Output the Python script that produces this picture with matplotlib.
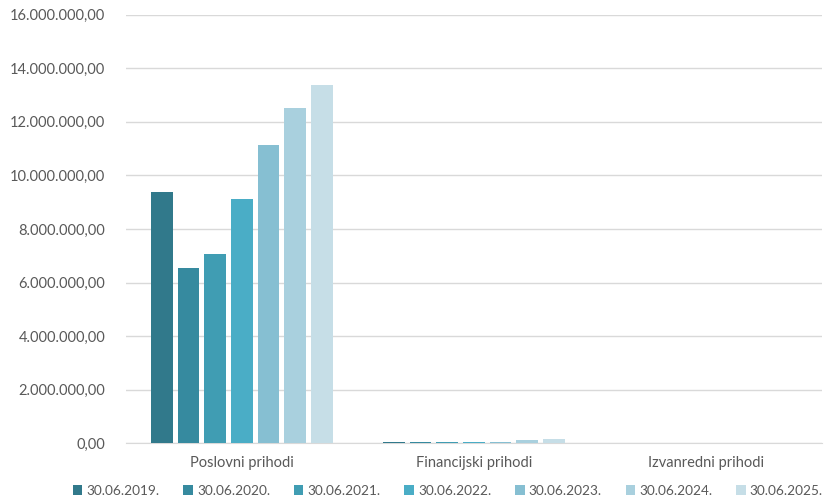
import numpy as np
import matplotlib.pyplot as plt
from matplotlib.ticker import FuncFormatter

# revenue by category, one series per reporting date
categories = ['Poslovni prihodi', 'Financijski prihodi', 'Izvanredni prihodi']
periods = ['30.06.2019.', '30.06.2020.', '30.06.2021.', '30.06.2022.',
           '30.06.2023.', '30.06.2024.', '30.06.2025.']
poslovni = [9380000, 6530000, 7050000, 9110000, 11130000, 12500000, 13360000]
financijski = [45000, 40000, 45000, 40000, 35000, 120000, 160000]
izvanredni = [0, 0, 0, 0, 0, 0, 0]
colors = ['#31798B', '#368A9F', '#409DB3', '#4AADC6', '#86BFD2', '#A9D0DE', '#C6DEE7']

values = np.array([poslovni, financijski, izvanredni])

plt.rcParams['font.family'] = ['Lato', 'DejaVu Sans']
text_color = '#595959'

fig = plt.figure(figsize=(8.34, 4.98), dpi=100)
ax = fig.add_axes([0.151, 0.1098, 0.8346, 0.8607])

x = np.arange(len(categories))
pitch = 0.115
width = 0.0935
for k, period in enumerate(periods):
    ax.bar(x + (k - 3) * pitch, values[:, k], width=width, color=colors[k],
           label=period, zorder=3)

ax.set_xlim(-0.5, 2.5)
ax.set_ylim(0, 16000000)
ax.set_yticks(np.arange(0, 16000001, 2000000))
ax.yaxis.set_major_formatter(FuncFormatter(
    lambda v, p: '{:,.2f}'.format(v).replace(',', ' ').replace('.', ',').replace(' ', '.')))
ax.set_xticks(x)
ax.set_xticklabels(categories)
ax.tick_params(axis='both', length=0, labelsize=10.5, colors=text_color)
ax.tick_params(axis='y', pad=15)
ax.tick_params(axis='x', pad=9)

ax.grid(axis='y', color='#D9D9D9', linewidth=1, zorder=0)
for s in ['top', 'right', 'left']:
    ax.spines[s].set_visible(False)
ax.spines['bottom'].set_color('#D9D9D9')

fig.legend(loc='lower center', bbox_to_anchor=(0.537, -0.022), ncol=7, frameon=False,
           fontsize=9.8, handlelength=0.7, handleheight=0.7, handletextpad=0.3,
           columnspacing=1.75, labelcolor=text_color)

fig.savefig('out.png', dpi=100)
